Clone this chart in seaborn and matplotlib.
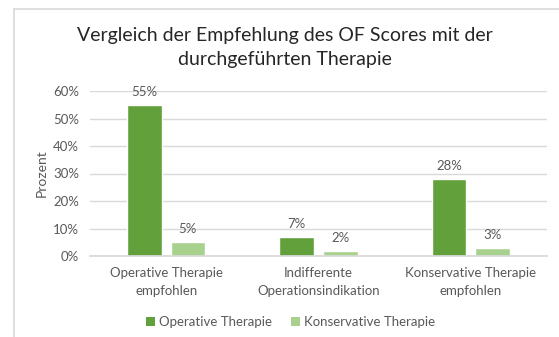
import matplotlib
matplotlib.use("Agg")
import matplotlib.pyplot as plt
from matplotlib.lines import Line2D
from matplotlib.patches import Patch
import seaborn as sns
import pandas as pd

categories = ["Operative Therapie\nempfohlen",
              "Indifferente\nOperationsindikation",
              "Konservative Therapie\nempfohlen"]
series = ["Operative Therapie", "Konservative Therapie"]
operative = [55, 7, 28]
konservativ = [5, 2, 3]
y_ticks = [0, 10, 20, 30, 40, 50, 60]

colors = ["#62A03C", "#A9D18E"]
text_gray = "#595959"
grid_gray = "#D9D9D9"

df = pd.DataFrame({
    "Kategorie": categories * 2,
    "Therapie": [series[0]] * 3 + [series[1]] * 3,
    "Prozent": operative + konservativ,
})

sns.set_theme(style="white")
plt.rcParams["font.family"] = ["Lato", "DejaVu Sans"]

W, H = 559, 337
fig = plt.figure(figsize=(W / 100, H / 100), dpi=100)
ax = fig.add_axes([90 / W, 1 - 256 / H, (547 - 90) / W, (256 - 91) / H])

sns.barplot(data=df, x="Kategorie", y="Prozent", hue="Therapie",
            palette=colors, order=categories, hue_order=series,
            width=0.57, gap=0.2, ax=ax, legend=False, saturation=1)

ax.set_ylim(0, 60)
ax.set_xlim(-0.5, 2.5)
ax.set_yticks(y_ticks)
ax.set_yticklabels([f"{t}%" for t in y_ticks])
ax.yaxis.grid(True, color=grid_gray, linewidth=1)
ax.set_axisbelow(True)
for side in ["top", "right", "left"]:
    ax.spines[side].set_visible(False)
ax.spines["bottom"].set_color(grid_gray)
ax.tick_params(axis="both", length=0, colors=text_gray, labelsize=9.5)
ax.tick_params(axis="x", pad=8)
ax.tick_params(axis="y", pad=8)
for lbl in ax.get_xticklabels():
    lbl.set_linespacing(1.55)
    lbl.set_verticalalignment("top")
ax.set_xlabel("")
ax.set_ylabel("Prozent", color=text_gray, fontsize=10, labelpad=4)

for container in ax.containers:
    ax.bar_label(container, labels=[f"{v:.0f}%" for v in container.datavalues],
                 padding=5, color=text_gray, fontsize=9.5)

fig.text(0.51, 1 - 35 / H, "Vergleich der Empfehlung des OF Scores mit der",
         ha="center", va="center", fontsize=14, color="#262626")
fig.text(0.51, 1 - 60 / H, "durchgeführten Therapie",
         ha="center", va="center", fontsize=14, color="#262626")

handles = [Patch(facecolor=c, edgecolor="none") for c in colors]
fig.legend(handles, series, loc="center", bbox_to_anchor=(0.52, 1 - 322 / H),
           ncol=2, frameon=False, fontsize=9.5, handlelength=0.7, handleheight=0.7,
           handletextpad=0.3, columnspacing=1.4, labelcolor=text_gray)

# outer frame of the chart area
fig.add_artist(Line2D([13.5 / W, 13.5 / W], [0, 1 - 8.5 / H], color=grid_gray,
                      linewidth=1.2, transform=fig.transFigure))
fig.add_artist(Line2D([13.5 / W, 1], [1 - 8.5 / H, 1 - 8.5 / H], color=grid_gray,
                      linewidth=1.2, transform=fig.transFigure))

fig.savefig("out.png", dpi=100, facecolor="white")
